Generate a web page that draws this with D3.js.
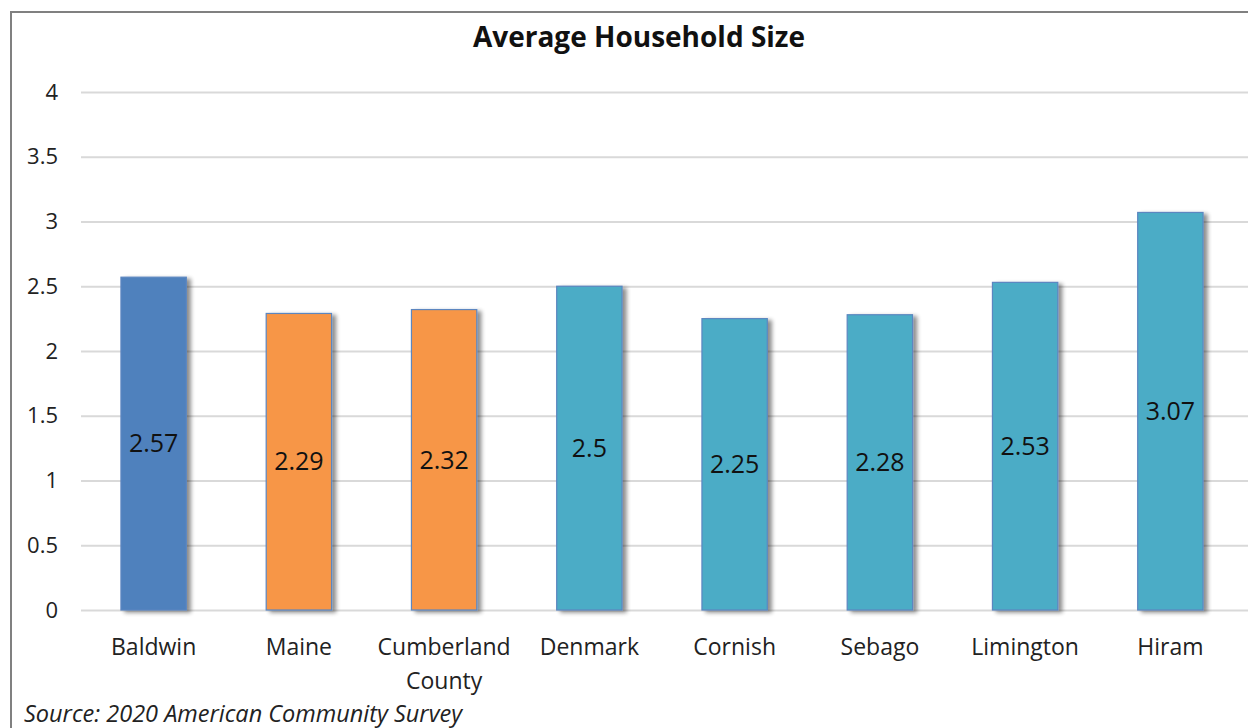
<!DOCTYPE html>
<html>
<head>
<meta charset="utf-8">
<script src="https://cdn.jsdelivr.net/npm/d3@7"></script>
<style>
  body { margin: 0; background: #fff; }
  svg { display: block; font-family: "Open Sans", "Noto Sans", sans-serif; }
</style>
</head>
<body>
<div id="chart"></div>
<script>
// chart data
var places = ["Baldwin", "Maine", "Cumberland County", "Denmark", "Cornish", "Sebago", "Limington", "Hiram"];
var sizes = [2.57, 2.29, 2.32, 2.5, 2.25, 2.28, 2.53, 3.07];
var groups = ["town", "compare", "compare", "near", "near", "near", "near", "near"];
var yTicks = [0, 0.5, 1, 1.5, 2, 2.5, 3, 3.5, 4];

var colors = {town: "#4F81BD", compare: "#F79646", near: "#4BACC6"};

var width = 1248, height = 728;
var plotLeft = 81, plotRight = 1243, plotTop = 92, plotBottom = 610;

var svg = d3.select("#chart")
    .append("svg")
    .attr("width", width)
    .attr("height", height);

// shadow like the spreadsheet one
var defs = svg.append("defs");
var f = defs.append("filter").attr("id", "shadow").attr("x", "-20%").attr("y", "-5%").attr("width", "150%").attr("height", "110%");
f.append("feGaussianBlur").attr("in", "SourceAlpha").attr("stdDeviation", 2);
f.append("feOffset").attr("dx", 4).attr("dy", 2).attr("result", "b");
f.append("feComponentTransfer").append("feFuncA").attr("type", "linear").attr("slope", 0.45);
var m = f.append("feMerge");
m.append("feMergeNode");
m.append("feMergeNode").attr("in", "SourceGraphic");

// outer frame
svg.append("rect")
    .attr("x", 11).attr("y", 12)
    .attr("width", 1260).attr("height", 740)
    .attr("fill", "none")
    .attr("stroke", "#808080")
    .attr("stroke-width", 2);

var x = d3.scaleBand()
    .domain(places)
    .range([plotLeft, plotRight])
    .paddingInner(0.55)
    .paddingOuter(0.275);

var y = d3.scaleLinear()
    .domain([0, 4])
    .range([plotBottom, plotTop]);

// gridlines + y labels
var yAxis = svg.append("g")
    .attr("transform", "translate(" + plotLeft + ",0)")
    .call(d3.axisLeft(y).tickValues(yTicks).tickSize(-(1248 - plotLeft)).tickFormat(d3.format("")).tickPadding(23))
    .attr("font-family", null);
yAxis.select(".domain").remove();
yAxis.selectAll(".tick line").attr("stroke", "#d9d9d9").attr("stroke-width", 2);
yAxis.selectAll(".tick text")
    .attr("font-size", 22)
    .attr("fill", "#222");

// bars
svg.selectAll(".bar")
    .data(places)
    .enter()
    .append("rect")
    .attr("class", "bar")
    .attr("x", function(d) { return x(d); })
    .attr("width", x.bandwidth())
    .attr("y", function(d, i) { return y(sizes[i]); })
    .attr("height", function(d, i) { return y(0) - y(sizes[i]); })
    .attr("fill", function(d, i) { return colors[groups[i]]; })
    .attr("stroke", "#5b86c0")
    .attr("stroke-width", 1.2)
    .attr("filter", "url(#shadow)");

// value labels in the middle of each bar
svg.selectAll(".val")
    .data(places)
    .enter()
    .append("text")
    .attr("class", "val")
    .attr("x", function(d) { return x(d) + x.bandwidth() / 2; })
    .attr("y", function(d, i) { return (y(sizes[i]) + y(0)) / 2; })
    .attr("dy", "0.35em")
    .attr("text-anchor", "middle")
    .attr("font-size", 25)
    .attr("fill", "#111")
    .text(function(d, i) { return sizes[i]; });

// category labels, wrap the long one
var xAxis = svg.append("g")
    .attr("transform", "translate(0," + plotBottom + ")")
    .call(d3.axisBottom(x).tickSize(0).tickPadding(0))
    .attr("font-family", null);
xAxis.select(".domain").remove();
xAxis.selectAll(".tick text").remove();
xAxis.selectAll(".tick").each(function(d) {
    var t = d3.select(this).append("text")
        .attr("text-anchor", "middle")
        .attr("font-size", 23)
        .attr("fill", "#222");
    var words = d == "Cumberland County" ? ["Cumberland", "County"] : [d];
    words.forEach(function(w, i) {
        t.append("tspan").attr("x", 0).attr("y", 45 + i * 34).text(w);
    });
});

// title
svg.append("text")
    .attr("x", 639).attr("y", 47)
    .attr("text-anchor", "middle")
    .attr("font-size", 28)
    .attr("font-weight", "bold")
    .attr("fill", "#111")
    .text("Average Household Size");

// source note
svg.append("text")
    .attr("x", 24).attr("y", 722)
    .attr("font-size", 23.5)
    .attr("font-style", "italic")
    .attr("fill", "#222")
    .text("Source: 2020 American Community Survey");
</script>
</body>
</html>
